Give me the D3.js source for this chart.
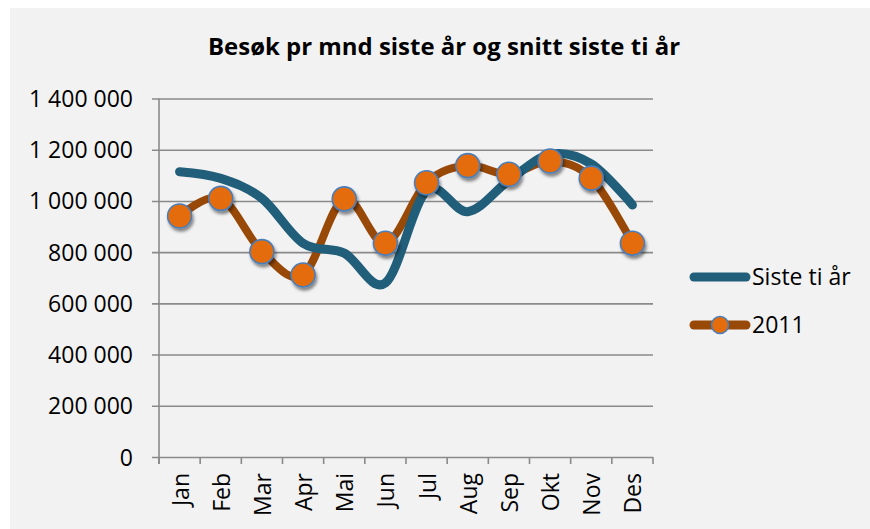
<!DOCTYPE html>
<html lang="no">
<head>
<meta charset="utf-8">
<script src="https://cdnjs.cloudflare.com/ajax/libs/d3/7.8.5/d3.min.js"></script>
<style>
  body { margin: 0; background: #fff; }
  text { font-family: "Open Sans", sans-serif; fill: #000; }
</style>
</head>
<body>
<svg id="chart" width="870" height="529"></svg>
<script>
// data
const months = ["Jan", "Feb", "Mar", "Apr", "Mai", "Jun", "Jul", "Aug", "Sep", "Okt", "Nov", "Des"];
const sisteTiAar = [1114000, 1088000, 1010000, 835000, 796000, 680000, 1040000, 958000, 1080000, 1182000, 1145000, 984000];
const aar2011 = [941000, 1010000, 802000, 711000, 1008000, 835000, 1071000, 1138000, 1104000, 1156000, 1089000, 835000];
const yTicks = [0, 200000, 400000, 600000, 800000, 1000000, 1200000, 1400000];
const seriesNames = ["Siste ti år", "2011"];

const svg = d3.select("#chart");

// drop shadow for the markers
const defs = svg.append("defs");
defs.append("filter").attr("id", "shadow")
    .attr("x", "-50%").attr("y", "-50%").attr("width", "200%").attr("height", "200%")
  .append("feDropShadow")
    .attr("dx", 1.5).attr("dy", 3).attr("stdDeviation", 1.8)
    .attr("flood-color", "#000").attr("flood-opacity", 0.45);

// chart area background
svg.append("rect").attr("x", 10).attr("y", 8).attr("width", 860).attr("height", 521)
    .attr("fill", "#f2f2f2");

const x = d3.scaleBand().domain(months).range([159, 653]).padding(0);
const y = d3.scaleLinear().domain([0, 1400000]).range([457, 98.5]);
const cx = m => x(m) + x.bandwidth() / 2;

const fmt = v => d3.format(",")(v).replace(/,/g, " ");

// y axis with gridlines
const yAxis = svg.append("g").attr("transform", "translate(159,0)")
    .call(d3.axisLeft(y).tickValues(yTicks).tickFormat(fmt).tickSizeInner(-494).tickSizeOuter(0).tickPadding(26));
yAxis.select(".domain").remove();
yAxis.selectAll(".tick line").attr("x1", -7).attr("stroke", "#8a8a8a").attr("stroke-width", 1.6);
yAxis.selectAll(".tick text").attr("font-size", 23).attr("font-family", "Open Sans").attr("dy", "0.35em");

// vertical axis line
svg.append("line").attr("x1", 159).attr("x2", 159).attr("y1", y(1400000)).attr("y2", 464)
    .attr("stroke", "#8a8a8a").attr("stroke-width", 1.6);

// x axis tick marks at category boundaries
const bounds = months.map(m => x(m)).concat([x.range()[1]]);
svg.append("g").selectAll("line").data(bounds).join("line")
    .attr("x1", d => d).attr("x2", d => d).attr("y1", y(0)).attr("y2", 464)
    .attr("stroke", "#8a8a8a").attr("stroke-width", 1.6);

// x labels
const xAxis = svg.append("g").attr("transform", `translate(0,${y(0)})`)
    .call(d3.axisBottom(x).tickSize(0));
xAxis.select(".domain").remove();
xAxis.selectAll(".tick text")
    .attr("font-size", 23).attr("font-family", "Open Sans")
    .attr("transform", "rotate(-90)")
    .attr("text-anchor", "end")
    .attr("x", -16).attr("y", 1).attr("dy", "0.35em");

// title
svg.append("text").attr("x", 444).attr("y", 55).attr("text-anchor", "middle")
    .attr("font-size", 23.5).attr("font-weight", "bold")
    .attr("textLength", 472).attr("lengthAdjust", "spacingAndGlyphs")
    .text("Besøk pr mnd siste år og snitt siste ti år");

const line = d3.line().x((d, i) => cx(months[i])).y(d => y(d)).curve(d3.curveCardinal.tension(0));

svg.append("path").datum(aar2011).attr("d", line)
    .attr("fill", "none").attr("stroke", "#984807").attr("stroke-width", 8)
    .attr("stroke-linecap", "round").attr("stroke-linejoin", "round");

svg.append("path").datum(sisteTiAar).attr("d", line)
    .attr("fill", "none").attr("stroke", "#215e7a").attr("stroke-width", 9)
    .attr("stroke-linecap", "round").attr("stroke-linejoin", "round");

svg.append("g").selectAll("circle").data(aar2011).join("circle")
    .attr("cx", (d, i) => cx(months[i])).attr("cy", d => y(d)).attr("r", 12)
    .attr("fill", "#e46c0a").attr("stroke", "#4a7ebb").attr("stroke-width", 1.6)
    .attr("filter", "url(#shadow)");

// legend
const legend = svg.append("g");
legend.append("line").attr("x1", 694).attr("x2", 746).attr("y1", 277).attr("y2", 277)
    .attr("stroke", "#215e7a").attr("stroke-width", 9).attr("stroke-linecap", "round");
legend.append("text").attr("x", 752).attr("y", 277).attr("dy", "0.35em").attr("font-size", 23)
    .text(seriesNames[0]);
legend.append("line").attr("x1", 694).attr("x2", 746).attr("y1", 325).attr("y2", 325)
    .attr("stroke", "#984807").attr("stroke-width", 9).attr("stroke-linecap", "round");
legend.append("circle").attr("cx", 720).attr("cy", 325).attr("r", 8.5)
    .attr("fill", "#e46c0a").attr("stroke", "#4a7ebb").attr("stroke-width", 1.6);
legend.append("text").attr("x", 752).attr("y", 325).attr("dy", "0.35em").attr("font-size", 23)
    .text(seriesNames[1]);
</script>
</body>
</html>
